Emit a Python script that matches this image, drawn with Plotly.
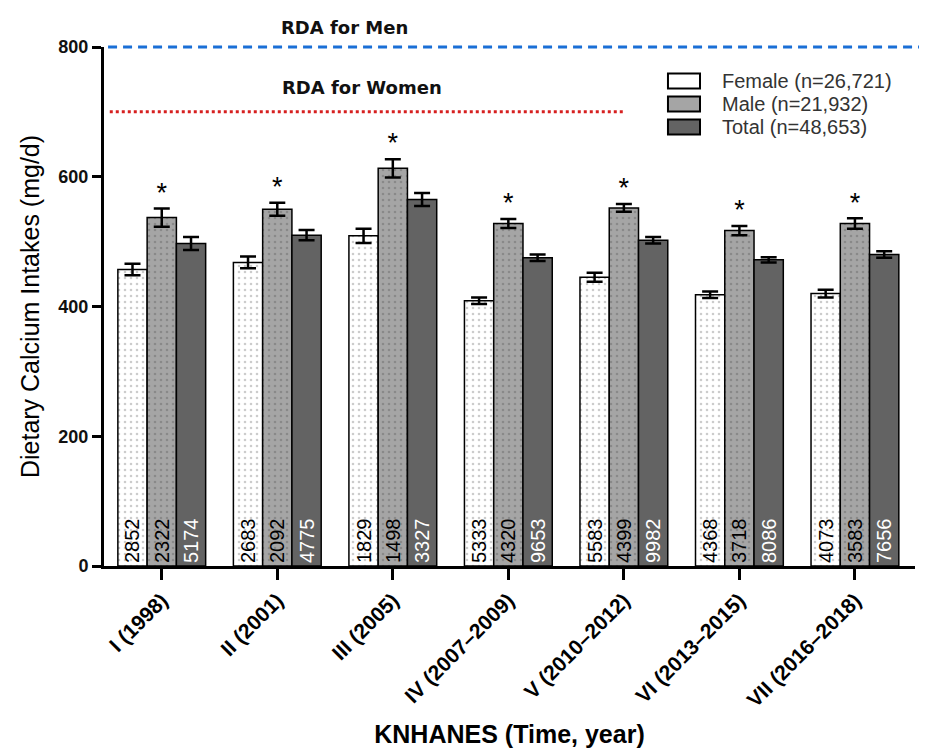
import plotly.graph_objects as go

categories = ["I (1998)", "II (2001)", "III (2005)", "IV (2007\u20132009)",
              "V (2010\u20132012)", "VI (2013\u20132015)", "VII (2016\u20132018)"]
female = [457, 468, 509, 409, 445, 418, 420]
female_err = [9, 9, 11, 5, 7, 5, 6]
male = [537, 550, 613, 528, 552, 517, 528]
male_err = [14, 10, 14, 7, 6, 7, 8]
total = [497, 510, 565, 475, 502, 472, 480]
total_err = [10, 8, 10, 5, 5, 4, 5]
female_n = ["2852", "2683", "1829", "5333", "5583", "4368", "4073"]
male_n = ["2322", "2092", "1498", "4320", "4399", "3718", "3583"]
total_n = ["5174", "4775", "3327", "9653", "9982", "8086", "7656"]
series_names = ["Female (n=26,721)", "Male (n=21,932)", "Total (n=48,653)"]
series_fill = ["#ffffff", "#a5a5a5", "#636363"]
rda_men = 800
rda_women = 700
y_max = 800

fig = go.Figure()

def add_bar(name, vals, errs, labels, fill, pat_shape, pat_fg, txtcolor):
    fig.add_trace(go.Bar(
        name=name, x=categories, y=vals,
        marker=dict(color=fill, line=dict(color="black", width=1.5),
                    pattern=dict(shape=pat_shape, fgcolor=pat_fg, size=6, solidity=0.15, bgcolor=fill)),
        error_y=dict(type="data", array=errs, color="black", thickness=2.5, width=8),
        text=labels, textposition="inside", insidetextanchor="start", textangle=-90,
        textfont=dict(family="Arial", size=20, color=txtcolor),
        cliponaxis=False, showlegend=False,
    ))

add_bar(series_names[0], female, female_err, female_n, series_fill[0], ".", "#9a9a9a", "black")
add_bar(series_names[1], male, male_err, male_n, series_fill[1], ".", "#6e6e6e", "black")
add_bar(series_names[2], total, total_err, total_n, series_fill[2], "", "#636363", "white")

# significance asterisks above male bars
fig.add_trace(go.Scatter(
    x=categories, y=[m + e for m, e in zip(male, male_err)],
    mode="text", text=["*"] * len(categories), textposition="top center",
    textfont=dict(family="Arial", size=27, color="black"),
    showlegend=False, hoverinfo="skip", offsetgroup=series_names[1],
))

# RDA for men sits at the top of the axis (800 = y_max), so use paper coords to avoid clipping
fig.add_shape(type="line", xref="paper", yref="paper", x0=0.005, x1=1.03,
              y0=rda_men / y_max, y1=rda_men / y_max,
              line=dict(color="#1a6fd6", width=3, dash="9px,6px"), layer="above")
fig.add_shape(type="line", xref="x", yref="y", x0=-0.45, x1=4.0, y0=rda_women, y1=rda_women,
              line=dict(color="#d62020", width=3, dash="dot"), layer="above")

fig.add_annotation(text="<b>RDA for Men</b>", xref="paper", yref="paper", x=0.296, y=1.0385,
                   xanchor="center", yanchor="middle", showarrow=False,
                   font=dict(family="DejaVu Sans", size=18, color="#111"))
fig.add_annotation(text="<b>RDA for Women</b>", xref="paper", yref="y", x=0.318, y=rda_women + 37,
                   xanchor="center", yanchor="middle", showarrow=False,
                   font=dict(family="DejaVu Sans", size=18, color="#111"))

# manual legend
leg_y = [0.9345, 0.8902, 0.8459]
for name, fill, ly in zip(series_names, series_fill, leg_y):
    fig.add_shape(type="rect", xref="paper", yref="paper", x0=0.6954, x1=0.7349,
                  y0=ly - 0.0145, y1=ly + 0.0145, fillcolor=fill,
                  line=dict(color="black", width=2))
    fig.add_annotation(text=name, xref="paper", yref="paper", x=0.7596, y=ly,
                       xanchor="left", yanchor="middle", showarrow=False,
                       font=dict(family="Arial", size=20, color="#333"))

fig.update_layout(
    width=927, height=749,
    margin=dict(l=96, r=20, t=39, b=191, autoexpand=False),
    plot_bgcolor="white", paper_bgcolor="white",
    barmode="group", bargap=0.24, bargroupgap=0,
    font=dict(family="Arial", color="black"),
    showlegend=False,
)
fig.update_yaxes(range=[0, y_max], tickvals=[0, 200, 400, 600, 800], automargin=False,
                 showgrid=False, zeroline=False, showline=True, linecolor="black", linewidth=3,
                 ticks="outside", ticklen=9, tickwidth=3, tickcolor="black",
                 tickfont=dict(family="Arial", size=18, color="#111", weight="bold"),
                 title=dict(text="Dietary Calcium Intakes (mg/d)", font=dict(family="Arial", size=25, color="black"), standoff=12))
fig.update_xaxes(range=[-0.5, 6.52], showgrid=False, showline=True, linecolor="black", linewidth=3,
                 automargin=False,
                 ticks="outside", ticklen=11, tickwidth=3, tickcolor="black", tickangle=-45,
                 tickfont=dict(family="Arial", size=21, color="black", weight="bold"),
                 title=dict(text="<b>KNHANES (Time, year)</b>", font=dict(family="Arial", size=25, color="black"), standoff=16))

fig.write_html("out.html")
